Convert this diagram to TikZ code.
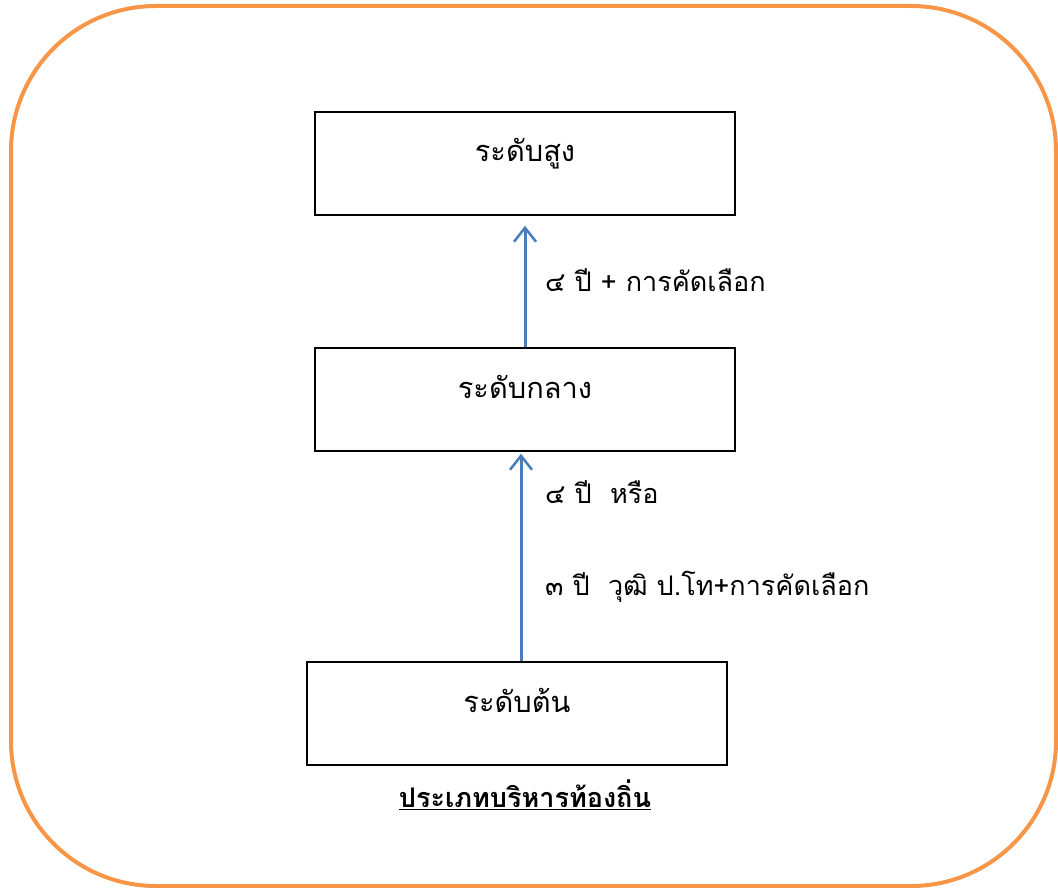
\documentclass[tikz,border=0pt]{standalone}
\usepackage		 {fontspec}
\usepackage		 {xcolor   }
\usepackage		 {tikz	  }
\usetikzlibrary{shapes,calc,positioning}
\usetikzlibrary	 {arrows.meta}
\newfontfamily\thaifont[Script=Thai]{Loma}
\definecolor{frameorange}{HTML}{F79646}
\definecolor{arrowblue}{HTML}{4A7EBB}

\begin{document}
\begin{tikzpicture}[x=1pt,y=-1pt,font=\thaifont\fontsize{27}{32}\selectfont]
  \tikzset{ lvl/.style={draw,line width=1.5pt,minimum width=420pt,minimum height=103pt,
                        inner sep=0pt,text height=10pt,text depth=13pt,
                        font=\thaifont\fontsize{29}{34}\selectfont},
            up/.style={arrowblue,line width=3pt,-{Straight Barb[length=14pt,width=22pt,line width=2.5pt]}},
            lab/.style={anchor=west,inner sep=0pt},
  }
  \useasboundingbox (0,0) rectangle (1058,888);
  \draw[frameorange,line width=4pt,rounded corners=145pt] (11,6) rectangle (1056,886);

  \node[lvl] (top) at (525,163.5) {ระดับสูง};
  \node[lvl] (mid) at (525,399.5) {ระดับกลาง};
  \node[lvl] (low) at (517,713.5) {ระดับต้น};

  % the arrows between the levels
  \draw[up] (mid.north) -- ([yshift=-10pt]top.south);
  \draw[up] ([xshift=4pt]low.north) -- ([xshift=-4pt,yshift=-2pt]mid.south);

  \node[lab] (l1) at (545,280) {๔ ปี + การคัดเลือก};
  \node[lab] (l2) at (545,492) {๔ ปี \ หรือ};
  \node[lab] (l3) at (545,587) {๓ ปี \ วุฒิ ป.โท+การคัดเลือก};

  \node (title) at (525,795) {\bfseries\underline{ประเภทบริหารท้องถิ่น}};
\end{tikzpicture}
\end{document}
